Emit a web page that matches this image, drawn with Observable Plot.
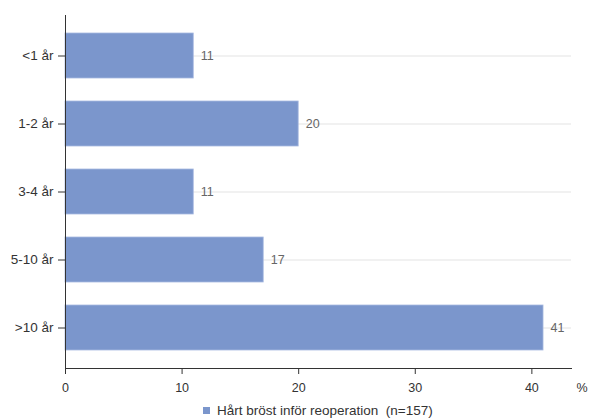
<!DOCTYPE html>
<html>
<head>
<meta charset="utf-8">
<script src="https://cdn.jsdelivr.net/npm/d3@7"></script>
<script src="https://cdn.jsdelivr.net/npm/@observablehq/plot@0.6"></script>
<style>
  html, body { margin: 0; padding: 0; background: #fff; }
  body { width: 590px; height: 418px; overflow: hidden; font-family: "Liberation Sans", Arial, sans-serif; }
  #legend { height: 18px; display: flex; align-items: center; padding-left: 203px; font-size: 13.5px; color: #333; white-space: pre; }
  #legend .sw { width: 7px; height: 7px; background: #7b96cc; margin-right: 7px; }
</style>
</head>
<body>
<div id="chart"></div>
<div id="legend"><span class="sw"></span><span>Hårt bröst inför reoperation  (n=157)</span></div>
<script>
const categories = ["<1 år", "1-2 år", "3-4 år", "5-10 år", ">10 år"];
const values = [11, 20, 11, 17, 41];
const xTicks = [0, 10, 20, 30, 40];
const seriesName = "Hårt bröst inför reoperation  (n=157)";

const data = categories.map((c, i) => ({category: c, value: values[i]}));

const chart = Plot.plot({
  width: 590,
  height: 401,
  marginLeft: 65,
  marginRight: 19,
  marginTop: 15,
  marginBottom: 33,
  style: {fontFamily: "Liberation Sans, Arial, sans-serif", fontSize: "12px", color: "#333", background: "#fff"},
  x: {domain: [0, 43.4], ticks: xTicks},
  y: {domain: categories, paddingInner: 0.34, paddingOuter: 0.24},
  marks: [
    Plot.gridY({stroke: "#e3e3e3", strokeOpacity: 1}),
    Plot.barX(data, {x: "value", y: "category", fill: "#7b96cc", stroke: "#a8b9e0", strokeWidth: 0.8}),
    Plot.text(data, {x: "value", y: "category", text: d => String(d.value), textAnchor: "start", dx: 7, fill: "#666", fontSize: 12.5}),
    Plot.axisY({tickSize: 7, tickPadding: 5, label: null, fill: "#333", stroke: "#333", fontSize: 13.5}),
    Plot.axisX({ticks: xTicks, tickSize: 6, tickPadding: 9, label: null, fill: "#333", stroke: "#333", fontSize: 12.5}),
    Plot.frame({anchor: "left", stroke: "#333"}),
    Plot.frame({anchor: "bottom", stroke: "#333"}),
    Plot.text(["%"], {frameAnchor: "bottom-right", dx: 5, dy: 23, textAnchor: "start", fill: "#333", fontSize: 12.5})
  ]
});
document.getElementById("chart").appendChild(chart);
</script>
</body>
</html>
